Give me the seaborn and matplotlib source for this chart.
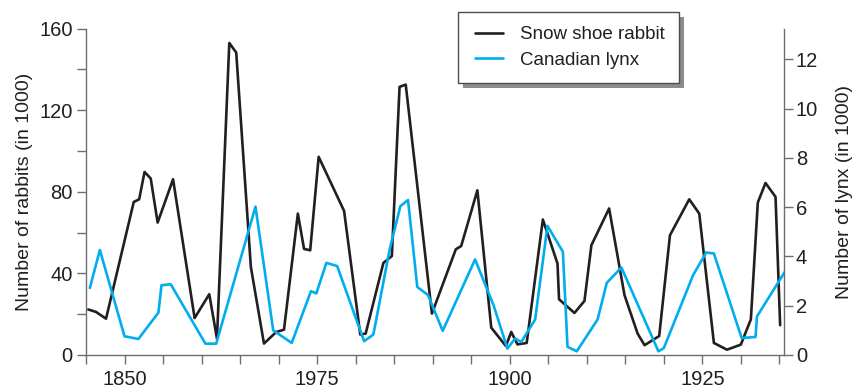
import matplotlib
matplotlib.use("Agg")
import matplotlib.pyplot as plt
from matplotlib.patches import Rectangle
from matplotlib.lines import Line2D
from matplotlib.legend_handler import HandlerLine2D
import seaborn as sns
import pandas as pd

# Snowshoe hare pelts (thousands) and lynx pelts (thousands), Hudson's Bay Company records
rabbit_years = [1845.3, 1846.3, 1847.6, 1851.2, 1851.9, 1852.6, 1853.4, 1854.3, 1856.3,
                1859.1, 1861.0, 1862.0, 1863.6, 1864.5, 1866.4, 1868.1, 1869.7, 1870.7,
                1872.5, 1873.3, 1874.1, 1875.2, 1878.5, 1880.6, 1881.3, 1883.6, 1884.7,
                1885.7, 1886.5, 1889.9, 1893.0, 1893.7, 1895.8, 1897.6, 1899.5, 1900.2,
                1901.0, 1902.2, 1904.3, 1906.2, 1906.4, 1908.4, 1909.7, 1910.6, 1912.9,
                1914.9, 1916.6, 1917.5, 1919.4, 1920.8, 1923.3, 1924.6, 1926.5, 1928.2,
                1930.0, 1931.3, 1932.2, 1933.2, 1934.5, 1935.1]
rabbits = [22.3, 21.1, 17.8, 75.0, 76.3, 89.7, 86.5, 64.9, 86.1,
           18.1, 29.8, 8.0, 152.9, 148.2, 43.1, 5.6, 11.3, 12.4,
           69.3, 52.0, 51.3, 97.1, 70.6, 10.0, 10.5, 45.1, 48.5,
           131.4, 132.5, 20.3, 51.8, 53.4, 80.7, 13.4, 4.4, 11.3,
           5.2, 5.9, 66.4, 44.8, 27.3, 20.6, 26.5, 53.8, 71.8,
           29.3, 10.5, 4.8, 9.3, 58.7, 76.3, 69.3, 5.9, 2.6,
           5.1, 17.5, 74.7, 84.3, 77.5, 14.6]

lynx_years = [1845.5, 1846.8, 1850.0, 1851.8, 1854.4, 1854.8, 1856.0, 1860.5, 1861.9,
              1867.0, 1869.3, 1871.7, 1874.2, 1874.9, 1876.2, 1877.6, 1881.1, 1882.3,
              1884.4, 1885.8, 1886.8, 1888.0, 1889.4, 1891.3, 1895.5, 1897.9, 1899.7,
              1900.7, 1901.5, 1903.3, 1904.9, 1906.9, 1907.5, 1908.7, 1911.4, 1912.6,
              1914.5, 1919.3, 1920.0, 1923.8, 1925.5, 1926.5, 1930.1, 1931.9, 1932.1,
              1935.7]
lynx = [2.72, 4.26, 0.76, 0.65, 1.72, 2.83, 2.87, 0.46, 0.46,
        6.02, 1.00, 0.49, 2.59, 2.50, 3.74, 3.61, 0.56, 0.83,
        4.26, 6.04, 6.29, 2.76, 2.43, 0.98, 3.88, 2.02, 0.26,
        0.67, 0.53, 1.44, 5.24, 4.19, 0.33, 0.15, 1.44, 2.93,
        3.55, 0.15, 0.28, 3.24, 4.16, 4.12, 0.69, 0.73, 1.57,
        3.37]

x_tick_years = [1850, 1875, 1900, 1925]
x_tick_labels = ["1850", "1975", "1900", "1925"]
series_names = ["Snow shoe rabbit", "Canadian lynx"]

rabbit_df = pd.DataFrame({"year": rabbit_years, "count": rabbits})
lynx_df = pd.DataFrame({"year": lynx_years, "count": lynx})

sns.set_style("ticks")
plt.rcParams["font.family"] = ["Liberation Sans", "DejaVu Sans"]

RABBIT_COLOR = "#231f20"
LYNX_COLOR = "#00aeef"
AXIS_COLOR = "#6d6e71"
TEXT_COLOR = "#231f20"

fig = plt.figure(figsize=(8.54, 3.88), dpi=100)
ax = fig.add_axes([86 / 854, 1 - 355 / 388, 698 / 854, 326.5 / 388])
ax2 = ax.twinx()

sns.lineplot(data=rabbit_df, x="year", y="count", ax=ax, color=RABBIT_COLOR,
             linewidth=1.9, sort=False, label=series_names[0], legend=False)
sns.lineplot(data=lynx_df, x="year", y="count", ax=ax2, color=LYNX_COLOR,
             linewidth=1.9, sort=False, label=series_names[1], legend=False)

ax.set_xlim(1845, 1935.6)
ax.set_ylim(0, 160)
ax2.set_ylim(0, 13.25)

ax.set_xticks(list(range(1845, 1936, 5)))
ax.set_xticklabels([x_tick_labels[x_tick_years.index(y)] if y in x_tick_years else ""
                    for y in range(1845, 1936, 5)])
ax.set_yticks(list(range(0, 161, 20)))
ax.set_yticklabels([str(v) if v % 40 == 0 else "" for v in range(0, 161, 20)])
ax2.set_yticks(list(range(0, 13, 2)))
ax2.set_yticklabels([str(v) for v in range(0, 13, 2)])

for a in (ax, ax2):
    a.spines["top"].set_visible(False)
    for s in a.spines.values():
        s.set_color(AXIS_COLOR)
        s.set_linewidth(1.0)
ax.spines["right"].set_visible(False)
ax2.spines["left"].set_visible(False)
ax2.spines["bottom"].set_visible(False)

ax.tick_params(axis="both", direction="out", length=6.5, width=1.0,
               color=AXIS_COLOR, labelcolor=TEXT_COLOR, labelsize=14.5)
ax.tick_params(axis="y", pad=3)
ax.tick_params(axis="x", pad=4)
ax2.tick_params(axis="y", direction="out", length=6.5, width=1.0,
                color=AXIS_COLOR, labelcolor=TEXT_COLOR, labelsize=14.5, pad=2)

ax.set_xlabel("")
ax.set_ylabel("Number of rabbits (in 1000)", fontsize=14, color=TEXT_COLOR)
ax2.set_ylabel("Number of lynx (in 1000)", fontsize=14, color=TEXT_COLOR)
ax.yaxis.set_label_coords(-0.076, 0.5)
ax2.yaxis.set_label_coords(1.075, 0.5)

handles = ax.get_lines()[:1] + ax2.get_lines()[:1]
leg = fig.legend(handles, series_names, loc="upper left",
                 bbox_to_anchor=(457.7 / 854, 1 - 11.7 / 388),
                 frameon=True, fancybox=False, shadow=False, framealpha=1,
                 edgecolor="#4d4d4f", fontsize=13.5, handlelength=1.63,
                 handletextpad=0.9, borderpad=0.77, labelspacing=0.45,
                 borderaxespad=0,
                 handler_map={Line2D: HandlerLine2D(xpad=0.14)})
leg.get_frame().set_linewidth(1.0)
for t in leg.get_texts():
    t.set_color(TEXT_COLOR)
leg.set_zorder(10)

# drop shadow behind the legend box
fig.canvas.draw()
bb = leg.get_window_extent()
shadow = Rectangle((bb.x0 + 5, bb.y0 - 5), bb.width, bb.height,
                   transform=None, facecolor="#8c8c8c", edgecolor="none", zorder=9)
fig.add_artist(shadow)

fig.savefig("out.png", dpi=100)
